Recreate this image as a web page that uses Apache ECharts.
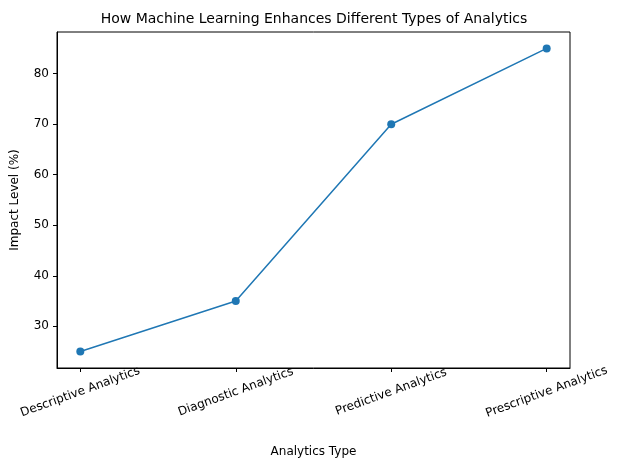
<!DOCTYPE html>
<html><head><meta charset="utf-8">
<script src="https://cdn.jsdelivr.net/npm/echarts@6/dist/echarts.min.js"></script>
<style>html,body{margin:0;padding:0;background:#fff}#c{width:628px;height:470px}</style>
</head><body><div id="c"></div>
<script>
const categories = ["Descriptive Analytics","Diagnostic Analytics","Predictive Analytics","Prescriptive Analytics"];
const impact = [25, 35, 70, 85];
const yTicks = [30, 40, 50, 60, 70, 80];

const chart = echarts.init(document.getElementById('c'));
const font = 'DejaVu Sans';
chart.setOption({
  animation: false,
  title: {text: 'How Machine Learning Enhances Different Types of Analytics', left: 'center', top: 7,
    textStyle: {fontFamily: font, fontSize: 14, fontWeight: 'normal', color: '#000'}},
  grid: {left: 57, right: 58, top: 32, bottom: 102},
  xAxis: {type: 'value', min: -0.15, max: 3.15,
    name: 'Analytics Type', nameLocation: 'middle', nameGap: 78,
    nameTextStyle: {fontFamily: font, fontSize: 12, color: '#000'},
    axisLine: {show: true, onZero: false, lineStyle: {color: '#000'}},
    axisTick: {show: true, length: 4, lineStyle: {color: '#000'}, customValues: [0,1,2,3]},
    axisLabel: {rotate: 20, align: 'center', fontFamily: font, fontSize: 12, color: '#000', margin: 24,
      customValues: [0,1,2,3], formatter: v => categories[Math.round(v)] || ''},
    splitLine: {show: false}},
  yAxis: {type: 'value', min: 21.75, max: 88.25,
    name: 'Impact Level (%)', nameLocation: 'middle', nameGap: 36,
    nameTextStyle: {fontFamily: font, fontSize: 12, color: '#000'},
    axisLine: {show: true, onZero: false, lineStyle: {color: '#000'}},
    axisTick: {show: true, length: 4, lineStyle: {color: '#000'}, customValues: yTicks},
    axisLabel: {fontFamily: font, fontSize: 12, color: '#000', customValues: yTicks},
    splitLine: {show: false}},
  series: [{type: 'line', data: impact.map((v,i)=>[i,v]), symbol: 'circle', symbolSize: 8,
    lineStyle: {color: '#1f77b4', width: 1.5}, itemStyle: {color: '#1f77b4'}}],
  graphic: [{type:'rect', shape:{x:57,y:32,width:513,height:336}, style:{fill:null, stroke:'#000', lineWidth:1}, silent:true}]
});
</script></body></html>
